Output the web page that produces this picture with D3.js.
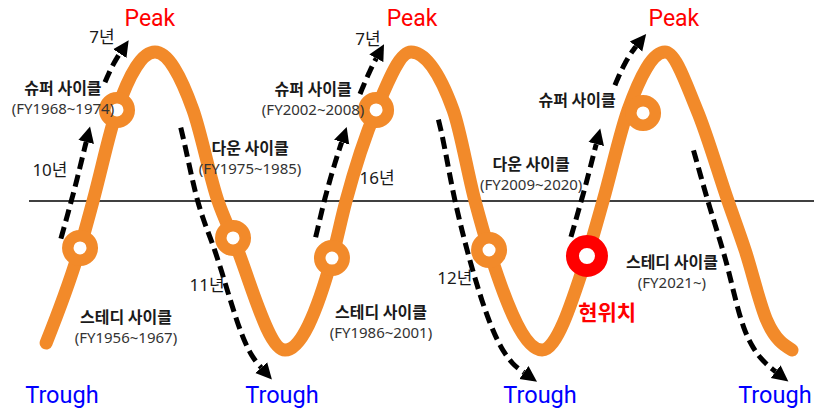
<!DOCTYPE html>
<html>
<head>
<meta charset="utf-8">
<script src="https://cdn.jsdelivr.net/npm/d3@7"></script>
<style>
  body { margin: 0; background: #fff; }
  svg { display: block; }
</style>
</head>
<body>
<div id="cycle-container"></div>
<script>
// wave points: phase (peaks on whole numbers) and level (-1 trough .. 1 peak)
const wavePhase = [0.573, 0.706, 0.757, 0.851, 1.000, 1.149, 1.247, 1.306, 1.510,
                   1.694, 1.749, 1.867, 2.004, 2.169, 2.255, 2.310, 2.518,
                   2.694, 2.757, 2.855, 3.000, 3.125, 3.247, 3.314, 3.400, 3.498];
const waveLevel = [-0.953, -0.315, 0, 0.611, 1, 0.611, 0, -0.248, -1,
                   -0.383, 0, 0.611, 1, 0.611, 0, -0.329, -1,
                   -0.369, 0, 0.611, 1, 0.611, 0, -0.329, -0.805, -1];

// ring markers
const ringPhase = [0.706, 0.851, 1.306, 1.694, 1.867, 2.310, 2.914];
const ringLevel = [-0.315, 0.611, -0.248, -0.383, 0.611, -0.329, 0.591];
const currentPhase = 2.694;
const currentLevel = -0.369;

// dashed arrows along the wave
const arrowFrom = [0.71, 0.88, 1.165, 1.71, 1.88, 2.175, 2.71, 2.88, 3.175];
const arrowTo   = [0.81, 0.93, 1.487, 1.81, 1.94, 2.495, 2.81, 2.95, 3.49];
const arrowDir  = ["up", "up", "down", "up", "up", "down", "up", "up", "down"];

// cycle names
const cycleNames = ["슈퍼 사이클", "다운 사이클", "스테디 사이클", "슈퍼 사이클", "스테디 사이클", "다운 사이클", "슈퍼 사이클", "스테디 사이클"];
const cycleYears = ["(FY1968~1974)", "(FY1975~1985)", "(FY1956~1967)", "(FY2002~2008)", "(FY1986~2001)", "(FY2009~2020)", "", "(FY2021~)"];
const cyclePhase = [0.639, 1.373, 0.886, 1.620, 1.886, 2.475, 2.655, 3.027];
const cycleLevel = [0.758, 0.356, -0.779, 0.752, -0.745, 0.248, 0.678, -0.409];

// durations
const spanLabels = ["10년", "7년", "11년", "7년", "16년", "12년"];
const spanPhase  = [0.588, 0.792, 1.204, 1.835, 1.871, 2.176];
const spanLevel  = [0.208, 1.101, -0.564, 1.087, 0.154, -0.517];

const peakPhase = [0.980, 2.008, 3.035];
const troughPhase = [0.635, 1.498, 2.510, 3.431];

const width = 814, height = 411;

const svg = d3.select("#cycle-container")
    .append("svg")
    .attr("width", width)
    .attr("height", height);

const x = d3.scaleLinear().domain([1, 3]).range([155, 665]);
const y = d3.scaleLinear().domain([-1, 1]).range([350, 52]);

const defs = svg.append("defs");
defs.append("marker")
    .attr("id", "head")
    .attr("markerUnits", "userSpaceOnUse")
    .attr("viewBox", "0 -9 17 18")
    .attr("refX", 0)
    .attr("refY", 0)
    .attr("markerWidth", 17)
    .attr("markerHeight", 18)
    .attr("orient", "auto")
    .append("path")
    .attr("d", "M0,-8L16,0L0,8Z")
    .attr("fill", "#000");

// middle line
svg.append("line")
    .attr("x1", 29)
    .attr("x2", width)
    .attr("y1", y(0))
    .attr("y2", y(0))
    .attr("stroke", "#000")
    .attr("stroke-width", 1.5);

const wave = wavePhase.map((p, i) => [p, waveLevel[i]]);

const line = d3.line()
    .x(d => x(d[0]))
    .y(d => y(d[1]))
    .curve(d3.curveMonotoneX);

const wavePath = svg.append("path")
    .datum(wave)
    .attr("d", line)
    .attr("fill", "none")
    .attr("stroke", "#f28a2a")
    .attr("stroke-width", 13)
    .attr("stroke-linecap", "round");

// sample the drawn wave so the arrows can follow it
const node = wavePath.node();
const total = node.getTotalLength();
const samples = d3.range(0, 2001).map(i => node.getPointAtLength(total * i / 2000));

function onWave(p) {
    const px = x(p);
    let i = d3.bisector(d => d.x).left(samples, px);
    i = Math.max(1, Math.min(samples.length - 1, i));
    const a = samples[i - 1], b = samples[i];
    const t = (b.x - a.x) ? (px - a.x) / (b.x - a.x) : 0;
    const dx = b.x - a.x, dy = b.y - a.y, len = Math.hypot(dx, dy) || 1;
    return { x: px, y: a.y + (b.y - a.y) * t, tx: dx / len, ty: dy / len };
}

// dashed arrows, offset from the wave (start gap, end gap)
const offset = { up: [21, 21], down: [17, 27] };
const arrowLine = d3.line().curve(d3.curveBasis);

arrowFrom.forEach((from, i) => {
    const dir = arrowDir[i];
    const gap = d3.interpolateNumber(offset[dir][0], offset[dir][1]);
    const pts = d3.range(0, 31).map(k => {
        const q = onWave(from + (arrowTo[i] - from) * k / 30);
        const nx = dir === "up" ? q.ty : -q.ty;
        const ny = dir === "up" ? -q.tx : q.tx;
        const g = gap(k / 30);
        return [q.x + nx * g, q.y + ny * g];
    });
    svg.append("path")
        .attr("class", "arrow")
        .attr("d", arrowLine(pts))
        .attr("fill", "none")
        .attr("stroke", "#000")
        .attr("stroke-width", 5)
        .attr("stroke-dasharray", "12,6")
        .attr("marker-end", "url(#head)");
});

// rings
svg.selectAll(".ring")
    .data(ringPhase)
    .enter().append("circle")
    .attr("class", "ring")
    .attr("cx", d => x(d))
    .attr("cy", (d, i) => y(ringLevel[i]))
    .attr("r", 12.25)
    .attr("fill", "#fff")
    .attr("stroke", "#f28a2a")
    .attr("stroke-width", 11.5);

svg.append("circle")
    .attr("cx", x(currentPhase))
    .attr("cy", y(currentLevel))
    .attr("r", 14.5)
    .attr("fill", "#fff")
    .attr("stroke", "#ff0000")
    .attr("stroke-width", 13);

// arrows on top of rings
svg.selectAll(".arrow").raise();

const kr = "'Noto Sans CJK KR', sans-serif";
const mixed = "'Noto Sans', 'Noto Sans CJK KR', sans-serif";
const latin = "Roboto, 'Liberation Sans', sans-serif";

// cycle labels
cycleNames.forEach((name, i) => {
    const g = svg.append("g")
        .attr("transform", `translate(${x(cyclePhase[i])},${y(cycleLevel[i])})`);
    g.append("text")
        .attr("text-anchor", "middle")
        .attr("dy", "0.35em")
        .attr("font-family", kr)
        .attr("font-weight", "bold")
        .attr("font-size", "16px")
        .attr("fill", "#1a1a1a")
        .text(name);
    if (cycleYears[i]) {
        g.append("text")
            .attr("text-anchor", "middle")
            .attr("y", 21)
            .attr("dy", "0.35em")
            .attr("font-family", mixed)
            .attr("font-size", "15px")
            .attr("fill", "#333")
            .text(cycleYears[i]);
    }
});

svg.selectAll(".span")
    .data(spanLabels)
    .enter().append("text")
    .attr("class", "span")
    .attr("x", (d, i) => x(spanPhase[i]))
    .attr("y", (d, i) => y(spanLevel[i]))
    .attr("dy", "0.35em")
    .attr("text-anchor", "middle")
    .attr("font-family", mixed)
    .attr("font-size", "17px")
    .attr("fill", "#1a1a1a")
    .text(d => d);

svg.selectAll(".peak")
    .data(peakPhase)
    .enter().append("text")
    .attr("class", "peak")
    .attr("x", d => x(d))
    .attr("y", 26)
    .attr("text-anchor", "middle")
    .attr("font-family", latin)
    .attr("font-size", "23px")
    .attr("fill", "#ff0000")
    .text("Peak");

svg.selectAll(".trough")
    .data(troughPhase)
    .enter().append("text")
    .attr("class", "trough")
    .attr("x", d => x(d))
    .attr("y", 403)
    .attr("text-anchor", "middle")
    .attr("font-family", latin)
    .attr("font-size", "23.5px")
    .attr("fill", "#0000ff")
    .text("Trough");

svg.append("text")
    .attr("x", x(2.773))
    .attr("y", y(-0.752))
    .attr("dy", "0.35em")
    .attr("text-anchor", "middle")
    .attr("font-family", kr)
    .attr("font-weight", "bold")
    .attr("font-size", "21px")
    .attr("fill", "#ff0000")
    .text("현위치");
</script>
</body>
</html>
